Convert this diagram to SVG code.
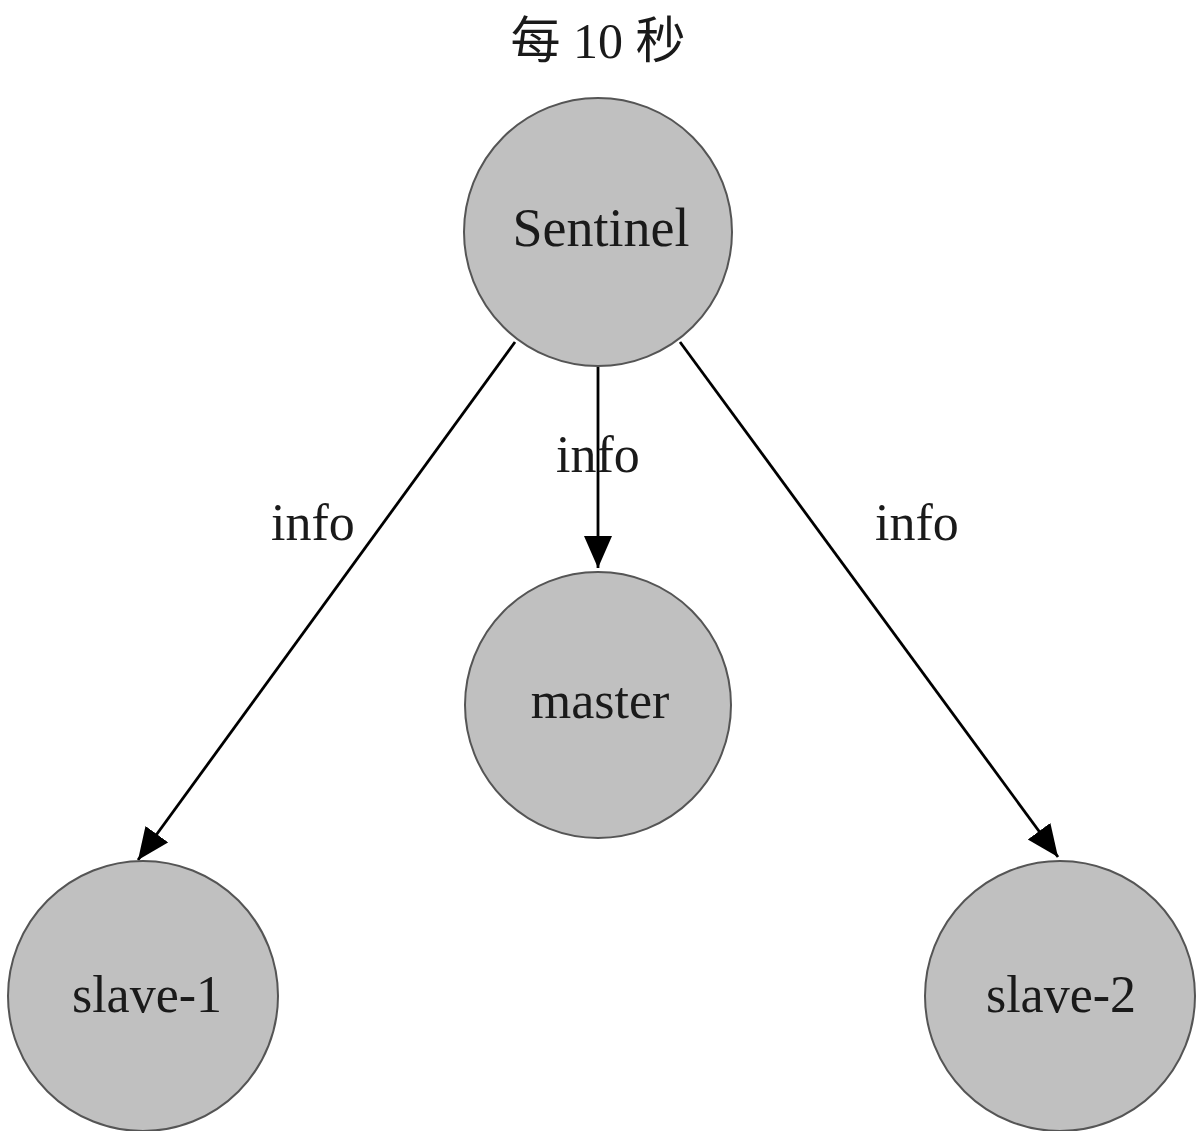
<svg xmlns="http://www.w3.org/2000/svg" width="1197" height="1131" viewBox="0 0 1197 1131">
<style>
.node circle{fill:#c0c0c0;stroke:#555;stroke-width:2}
.lbl{font-family:"Liberation Serif","Noto Sans CJK SC",serif;font-size:52px;fill:#1a1a1a;text-anchor:middle}
.edge{stroke:#000;stroke-width:2.8;fill:none;marker-end:url(#ah)}
</style>
<defs>
<marker id="ah" markerUnits="userSpaceOnUse" markerWidth="34" markerHeight="30" refX="32" refY="14" orient="auto">
<path d="M0,0 L32,14 L0,28 Z" fill="#000"/>
</marker>
</defs>
<rect width="1197" height="1131" fill="#fff"/>
<text class="lbl" x="598" y="58" style="font-size:50px">每 10 秒</text>
<g id="edges">
<line class="edge" x1="515" y1="342" x2="138" y2="860"/>
<line class="edge" x1="598" y1="367" x2="598" y2="568"/>
<line class="edge" x1="680" y1="342" x2="1058" y2="857"/>
<text class="lbl" x="313" y="540">info</text>
<text class="lbl" x="598" y="472">info</text>
<text class="lbl" x="917" y="540">info</text>
</g>
<g id="sentinel" class="node"><circle cx="598" cy="232" r="134"/><text class="lbl" x="601" y="246" style="font-size:54px">Sentinel</text></g>
<g id="master" class="node"><circle cx="598" cy="705" r="133"/><text class="lbl" x="600" y="718">master</text></g>
<g id="slave1" class="node"><circle cx="143" cy="996" r="135"/><text class="lbl" x="147" y="1012">slave-1</text></g>
<g id="slave2" class="node"><circle cx="1060" cy="996" r="135"/><text class="lbl" x="1061" y="1012">slave-2</text></g>
</svg>
